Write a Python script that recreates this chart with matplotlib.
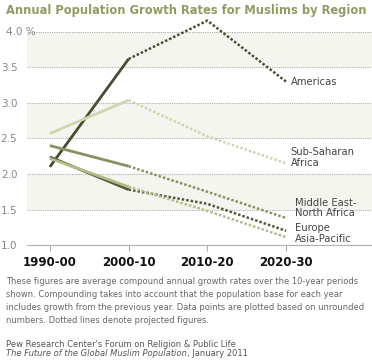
import matplotlib.pyplot as plt


plt.rcParams['font.family'] = 'DejaVu Sans'

periods = ['1990-00', '2000-10', '2010-20', '2020-30']
regions = ['Americas', 'Sub-Saharan\nAfrica', 'Middle East-\nNorth Africa', 'Europe', 'Asia-Pacific']
americas = [2.10, 3.62, 4.16, 3.30]
sub_saharan = [2.57, 3.04, 2.53, 2.15]
mena = [2.40, 2.11, 1.75, 1.38]
europe = [2.24, 1.78, 1.58, 1.20]
asia_pacific = [2.22, 1.82, 1.48, 1.11]
series = [americas, sub_saharan, mena, europe, asia_pacific]
colors = ['#4b4b32', '#cfd5b0', '#8a9060', '#55583a', '#b4ba84']
label_x = [3.06, 3.06, 3.11, 3.11, 3.11]
label_y = [3.30, 2.23, 1.52, 1.24, 1.08]

fig = plt.figure(figsize=(3.72, 3.61), dpi=100)
ax = fig.add_axes([0.0726, 0.3213, 0.9274, 0.5901])
ax.set_xlim(-0.29, 4.09)
ax.set_ylim(1.0, 4.0)

# alternating bands + dotted grid
for i, lo in enumerate([1.0, 1.5, 2.0, 2.5, 3.0, 3.5]):
    if i % 2 == 1:
        ax.axhspan(lo, lo + 0.5, color='#f5f5f0', lw=0, zorder=0)
for v in [1.5, 2.0, 2.5, 3.0, 3.5, 4.0]:
    ax.axhline(v, color='#b0b0b0', lw=0.8, ls=(0, (1, 1)), zorder=1)

# solid = estimates, dotted = projections
x = range(len(periods))
for vals, c in zip(series, colors):
    ax.plot(x[:2], vals[:2], color=c, lw=2, solid_capstyle='butt', zorder=3, clip_on=False)
    ax.plot(x[1:], vals[1:], color=c, lw=1.8, ls=(0, (1, 0.8)), zorder=2, clip_on=False)

for name, xv, yv in zip(regions, label_x, label_y):
    ax.text(xv, yv, name, fontsize=7.2, color='#444444', va='center', ha='left',
            linespacing=1.05)

for s in ['top', 'right', 'left']:
    ax.spines[s].set_visible(False)
ax.spines['bottom'].set_color('#b0b0b0')
ax.set_xticks(list(x))
ax.set_xticklabels(periods, fontsize=8.5, fontweight='bold', color='#111111')
ax.tick_params(axis='x', length=4, color='#b0b0b0', pad=4)
ax.set_yticks([1.0, 1.5, 2.0, 2.5, 3.0, 3.5])
ax.set_yticklabels(['1.0', '1.5', '2.0', '2.5', '3.0', '3.5'], fontsize=7.5, color='#888888')
ax.tick_params(axis='y', length=0, pad=7)
ax.text(-0.175, 4.0, '4.0 %', fontsize=7.5, color='#888888', va='center', ha='right')

fig.text(0.016, 0.972, 'Annual Population Growth Rates for Muslims by Region',
         fontsize=8.3, fontweight='bold', color='#8f9c62', va='center')

note = ('These figures are average compound annual growth rates over the 10-year periods\n'
        'shown. Compounding takes into account that the population base for each year\n'
        'includes growth from the previous year. Data points are plotted based on unrounded\n'
        'numbers. Dotted lines denote projected figures.')
fig.text(0.016, 0.166, note, fontsize=6.05, color='#666666', va='center', linespacing=1.55)
fig.text(0.016, 0.047, "Pew Research Center's Forum on Religion & Public Life",
         fontsize=6.05, color='#555555', va='center')
book = fig.text(0.016, 0.007, 'The Future of the Global Muslim Population', fontsize=6.05,
                color='#555555', style='italic', va='bottom')
ax.annotate(', January 2011', xy=(1, 0), xycoords=book, fontsize=6.05, color='#555555',
            va='bottom', ha='left', annotation_clip=False)

fig.savefig('out.png', dpi=100)
